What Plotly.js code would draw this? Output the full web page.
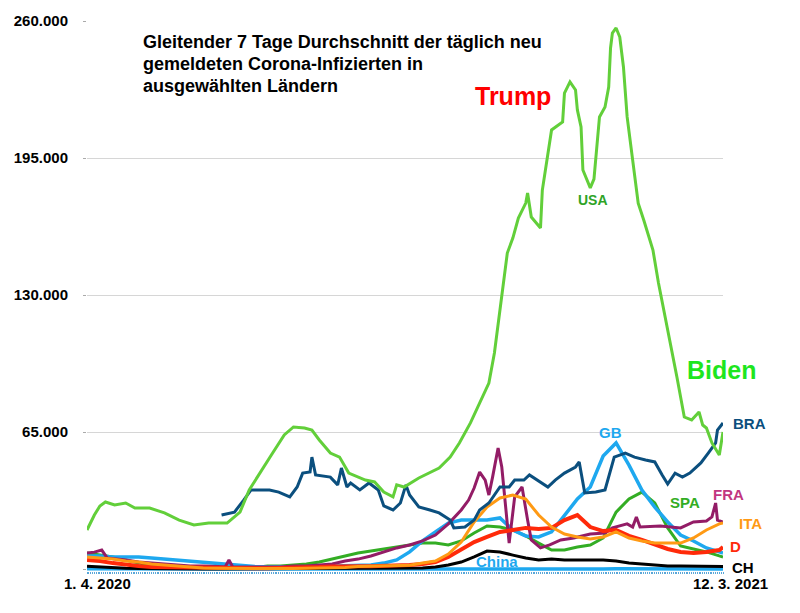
<!DOCTYPE html>
<html>
<head>
<meta charset="utf-8">
<script src="https://cdn.plot.ly/plotly-3.0.1.min.js"></script>
<style>html,body{margin:0;padding:0;background:#fff;}#chart{width:800px;height:613px;}</style>
</head>
<body>
<div id="chart"></div>
<script>
// Weekly sample dates from 1.4.2020 to 12.3.2021 (used by GB, SPA, ITA, D, CH, China)
var dates = ['2020-04-01','2020-04-08','2020-04-15','2020-04-22','2020-04-29','2020-05-06','2020-05-13','2020-05-20','2020-05-27','2020-06-03','2020-06-10','2020-06-17','2020-06-24','2020-07-01','2020-07-08','2020-07-15','2020-07-22','2020-07-29','2020-08-05','2020-08-12','2020-08-19','2020-08-26','2020-09-02','2020-09-09','2020-09-16','2020-09-23','2020-09-30','2020-10-07','2020-10-14','2020-10-21','2020-10-28','2020-11-04','2020-11-11','2020-11-18','2020-11-25','2020-12-02','2020-12-09','2020-12-16','2020-12-23','2020-12-30','2021-01-06','2021-01-13','2021-01-20','2021-01-27','2021-02-03','2021-02-10','2021-02-17','2021-02-24','2021-03-03','2021-03-10','2021-03-12'];

var gb = [6200,6200,5700,5700,5700,5200,4700,3800,3300,2800,2400,1900,1400,1200,1000,900,1000,1100,1200,1300,1400,1500,1900,2800,4300,8100,13300,17600,21800,23200,23200,23200,24200,18500,15700,15200,17600,25600,33200,38900,53600,59800,49300,37500,29400,22300,16100,13300,10000,8100,7600];
var spa = [7600,6600,5700,4300,2800,1900,1400,900,700,600,500,500,600,700,1400,1400,1900,2400,3300,4700,6200,7600,8500,9500,10400,11400,12300,12300,11400,13300,17100,20400,19900,18500,15700,12300,9000,9000,10400,11400,14700,27000,33200,36500,31300,19500,10900,9500,8100,6200,5700];
var ita = [5700,5200,4700,3800,3300,2400,1900,1400,900,500,400,300,250,200,200,200,250,300,400,500,700,1200,1300,1500,1600,1800,2800,3800,7100,12800,22300,29400,33700,35100,33200,25600,19900,16600,15200,14200,15200,17600,14700,13300,12300,12300,12300,14700,18500,21400,21800];
var de = [4300,3800,2800,1900,1400,900,800,600,500,400,400,500,500,400,400,450,550,700,900,1200,1400,1300,1300,1400,1700,1900,2400,3300,5700,9000,12800,15200,17600,18500,19500,19000,19500,23200,25600,19900,18000,18500,15700,13800,11900,9500,8100,7600,8100,9000,10400];
var ch = [1300,900,500,300,200,100,60,40,30,30,30,50,80,100,100,120,150,150,180,250,300,300,350,400,450,450,450,900,1900,3300,5700,8500,8100,6600,5200,4300,4700,4300,4300,4300,4300,3800,2800,2400,1900,1400,1400,1300,1200,1200,1200];
var china = [60,50,40,20,10,10,10,10,10,10,10,20,20,15,10,10,20,30,30,20,20,15,15,15,15,15,15,15,15,20,20,20,20,20,20,20,20,20,20,20,50,100,100,80,40,20,15,15,15,15,15];

// USA (denser sampling)
var usaDates = ['2020-04-01','2020-04-05','2020-04-08','2020-04-11','2020-04-16','2020-04-22','2020-04-27','2020-05-05','2020-05-13','2020-05-21','2020-05-29','2020-06-06','2020-06-16','2020-06-23','2020-06-28','2020-07-03','2020-07-10','2020-07-17','2020-07-22','2020-07-28','2020-08-01','2020-08-05','2020-08-11','2020-08-16','2020-08-21','2020-08-30','2020-09-04','2020-09-09','2020-09-14','2020-09-16','2020-09-20','2020-09-28','2020-10-09','2020-10-15','2020-10-20','2020-10-26','2020-10-31','2020-11-05','2020-11-08','2020-11-11','2020-11-13','2020-11-15','2020-11-18','2020-11-21','2020-11-25','2020-11-26','2020-11-28','2020-12-03','2020-12-04','2020-12-06','2020-12-09','2020-12-15','2020-12-16','2020-12-19','2020-12-22','2020-12-23','2020-12-25','2020-12-26','2020-12-30','2021-01-01','2021-01-04','2021-01-07','2021-01-09','2021-01-10','2021-01-11','2021-01-13','2021-01-15','2021-01-17','2021-01-19','2021-01-22','2021-01-25','2021-01-28','2021-02-02','2021-02-05','2021-02-09','2021-02-12','2021-02-15','2021-02-19','2021-02-23','2021-02-27','2021-03-01','2021-03-03','2021-03-06','2021-03-10','2021-03-12'];
var usa = [18500,25600,29900,31800,30400,31300,28900,28900,26600,23200,20900,21800,21800,27000,37500,44600,54100,63600,67400,66900,65900,61200,55000,53100,45500,42200,41300,36500,34200,39900,38900,43200,47900,53100,59800,69300,78800,88200,102500,122900,133800,149900,157000,166500,173600,178400,167000,161800,179800,190700,208300,212100,225800,231100,227300,217800,209700,189300,180800,185000,214500,219200,228700,247200,254300,256700,252400,238200,214500,194000,173600,165600,151300,135700,118100,103900,91100,72100,70700,74500,68300,66900,59800,54100,65000];

// Brazil
var braDates = ['2020-06-13','2020-06-20','2020-06-25','2020-06-29','2020-07-09','2020-07-14','2020-07-20','2020-07-24','2020-07-27','2020-07-31','2020-08-01','2020-08-03','2020-08-11','2020-08-15','2020-08-17','2020-08-20','2020-08-22','2020-08-27','2020-09-01','2020-09-06','2020-09-09','2020-09-14','2020-09-18','2020-09-21','2020-09-23','2020-09-28','2020-10-04','2020-10-09','2020-10-15','2020-10-17','2020-10-23','2020-10-28','2020-10-31','2020-11-05','2020-11-11','2020-11-16','2020-11-19','2020-11-24','2020-11-27','2020-12-03','2020-12-07','2020-12-11','2020-12-16','2020-12-22','2020-12-24','2020-12-27','2021-01-02','2021-01-07','2021-01-10','2021-01-12','2021-01-18','2021-01-23','2021-01-29','2021-02-03','2021-02-07','2021-02-10','2021-02-14','2021-02-18','2021-02-22','2021-02-28','2021-03-04','2021-03-08','2021-03-09','2021-03-12'];
var bra = [25600,27000,32700,37500,37500,36500,34200,38900,45500,46000,53100,44600,43600,39900,47900,38900,40800,37500,40800,37500,29900,28000,31300,39900,35100,29400,28000,26600,23200,19500,19900,23200,28000,31300,38900,38900,42200,42200,44600,41300,38900,42200,45500,48400,50800,36100,36500,37500,47000,53100,55000,53100,51700,50800,44600,40300,45500,43600,45500,50300,55000,59800,65900,69300];

// France
var fraDates = ['2020-04-01','2020-04-05','2020-04-09','2020-04-12','2020-04-22','2020-04-29','2020-05-06','2020-05-13','2020-05-20','2020-05-27','2020-06-03','2020-06-10','2020-06-15','2020-06-17','2020-06-19','2020-06-24','2020-07-01','2020-07-15','2020-07-22','2020-07-29','2020-08-05','2020-08-12','2020-08-19','2020-08-26','2020-09-02','2020-09-09','2020-09-16','2020-09-23','2020-09-30','2020-10-07','2020-10-14','2020-10-21','2020-10-25','2020-10-28','2020-10-31','2020-11-03','2020-11-05','2020-11-07','2020-11-10','2020-11-12','2020-11-14','2020-11-16','2020-11-19','2020-11-23','2020-11-26','2020-11-28','2020-12-03','2020-12-08','2020-12-14','2020-12-21','2020-12-30','2021-01-07','2021-01-11','2021-01-19','2021-01-22','2021-01-24','2021-01-26','2021-02-06','2021-02-17','2021-02-24','2021-03-03','2021-03-06','2021-03-08','2021-03-09','2021-03-12'];
var fra = [7600,8000,9000,5200,4300,3300,2800,2400,1900,1400,1400,1200,1100,4300,1100,1000,900,900,1400,1400,1900,2400,3800,4700,6200,8100,10000,11400,13300,16100,21400,28000,32700,38400,46000,42200,35100,43600,57400,48400,29400,12300,34200,38900,23200,13800,10000,11400,13800,14700,16600,17100,19500,21400,19900,24700,19900,20400,19500,22300,22800,24700,31300,23200,22300];

var yTickVals = [0,65000,130000,195000,260000];
var yTickText = ['','<b>65.000</b>','<b>130.000</b>','<b>195.000</b>','<b>260.000</b>'];

var FONT = 'Liberation Sans, Arial, Helvetica, sans-serif';

function line(name, x, y, color, width) {
  return {x: x, y: y, name: name, type: 'scatter', mode: 'lines',
          line: {color: color, width: width}, hoverinfo: 'skip'};
}

var traces = [
  line('China', dates, china, '#1ea8ef', 3.5),
  line('CH', dates, ch, '#000000', 3),
  line('SPA', dates, spa, '#33ad24', 3),
  line('GB', dates, gb, '#1ea8ef', 3.5),
  line('FRA', fraDates, fra, '#931c66', 3),
  line('D', dates, de, '#ff2a0a', 4),
  line('ITA', dates, ita, '#ff9a14', 3),
  line('BRA', braDates, bra, '#0b4f7e', 3),
  line('USA', usaDates, usa, '#62cf3a', 3)
];

function px(x){ return (x-87)/636; }
function py(y){ return (571-y)/550; }
function ann(text, x, y, color, size, xanchor) {
  return {text: text, xref: 'paper', yref: 'paper', x: px(x), y: py(y),
          xanchor: xanchor || 'center', yanchor: 'middle', showarrow: false,
          font: {family: FONT, size: size, color: color}};
}

var annotations = [
  ann('<b>Gleitender 7 Tage Durchschnitt der täglich neu</b>', 141, 42, '#000', 18, 'left'),
  ann('<b>gemeldeten Corona-Infizierten in</b>', 141, 64, '#000', 18, 'left'),
  ann('<b>ausgewählten Ländern</b>', 141, 86, '#000', 18, 'left'),
  ann('<b>Trump</b>', 513, 96, '#ff0000', 25),
  ann('<b>Biden</b>', 721, 370, '#1ee61e', 25),
  ann('<b>USA</b>', 593, 200, '#2ea326', 14),
  ann('<b>GB</b>', 610, 432, '#1ea8ef', 15),
  ann('<b>BRA</b>', 731, 423, '#0b4f7e', 15, 'left'),
  ann('<b>SPA</b>', 685, 502, '#33ad24', 15),
  ann('<b>FRA</b>', 728, 494, '#c2367f', 15),
  ann('<b>ITA</b>', 750, 523, '#ff9a14', 15),
  ann('<b>D</b>', 735, 546, '#ff2a0a', 15),
  ann('<b>CH</b>', 743, 567, '#000', 15),
  ann('<b>China</b>', 497, 561, '#1ea8ef', 15),
  ann('<b>1. 4. 2020</b>', 97, 583, '#000', 15),
  ann('<b>12. 3. 2021</b>', 730, 583, '#000', 15)
];

var layout = {
  width: 800, height: 613,
  margin: {l: 87, r: 77, t: 21, b: 42, pad: 0},
  paper_bgcolor: '#fff', plot_bgcolor: '#fff',
  showlegend: false,
  font: {family: FONT, color: '#000'},
  xaxis: {type: 'date', range: ['2020-04-01', '2021-03-12'], showgrid: false, zeroline: false,
          showticklabels: false, ticks: 'outside', dtick: 86400000, tick0: '2020-04-01',
          ticklen: 2, tickwidth: 1, tickcolor: '#5aa7d8', showline: false, fixedrange: true},
  yaxis: {range: [-950, 260000], tickmode: 'array', tickvals: yTickVals, ticktext: yTickText,
          showgrid: true, gridcolor: '#d6d6d6', gridwidth: 1, zeroline: false,
          ticks: 'outside', ticklen: 3, tickcolor: '#aaa', ticklabelstandoff: 12,
          tickfont: {family: FONT, size: 15, color: '#000'}, showline: false, fixedrange: true},
  annotations: annotations
};

Plotly.newPlot('chart', traces, layout, {displayModeBar: false, staticPlot: true});
</script>
</body>
</html>
